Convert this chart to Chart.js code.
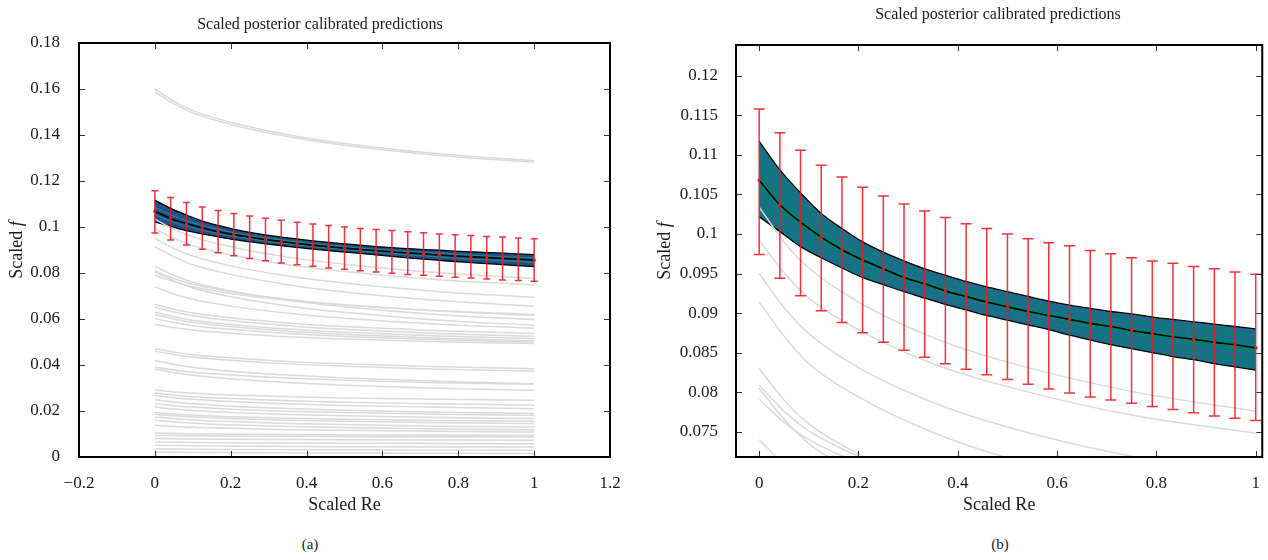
<!DOCTYPE html>
<html>
<head>
<meta charset="utf-8">
<script src="https://cdn.jsdelivr.net/npm/chart.js@4.4.1/dist/chart.umd.min.js"></script>
<style>
    body { margin: 0; background: #fff; }
    #wrap { position: relative; width: 1268px; height: 560px; font-family: "Liberation Serif", serif; }
    .box { position: absolute; top: 0; height: 520px; }
    .panel { position: absolute; top: 536px; font-size: 15px; color: #222; transform: translateX(-50%); }
</style>
</head>
<body>
<div id="wrap">
    <div class="box" style="left:0;width:630px"><canvas id="chart-a"></canvas></div>
    <div class="box" style="left:640px;width:628px"><canvas id="chart-b"></canvas></div>
    <div class="panel" style="left:310px">(a)</div>
    <div class="panel" style="left:1000px">(b)</div>
</div>
<script>
// --- Datos ---
// Puntos de Re escalado donde se evaluan las predicciones calibradas (25 puntos)
const reCal = [0, 0.0417, 0.0833, 0.125, 0.1667, 0.2083, 0.25, 0.2917, 0.3333, 0.375, 0.4167, 0.4583,
    0.5, 0.5417, 0.5833, 0.625, 0.6667, 0.7083, 0.75, 0.7917, 0.8333, 0.875, 0.9167, 0.9583, 1];
const meanPred = [0.1068, 0.1037, 0.1015, 0.0996, 0.0980, 0.0967, 0.0956, 0.0945, 0.0937, 0.0928, 0.0921, 0.0914,
    0.0908, 0.0902, 0.0897, 0.0892, 0.0887, 0.0883, 0.0878, 0.0874, 0.0870, 0.0867, 0.0863, 0.0860, 0.0856];
const bandUpper = [0.1117, 0.1081, 0.1052, 0.1026, 0.1007, 0.0990, 0.0977, 0.0966, 0.0956, 0.0948, 0.0940, 0.0933,
    0.0927, 0.0921, 0.0915, 0.0910, 0.0906, 0.0902, 0.0899, 0.0895, 0.0892, 0.0889, 0.0886, 0.0883, 0.0880];
const bandLower = [0.1022, 0.1003, 0.0984, 0.0970, 0.0957, 0.0945, 0.0936, 0.0927, 0.0919, 0.0911, 0.0904, 0.0897,
    0.0891, 0.0885, 0.0879, 0.0872, 0.0866, 0.0860, 0.0855, 0.0850, 0.0845, 0.0841, 0.0836, 0.0832, 0.0828];
// Barras de error de los datos experimentales
const errUpper = [0.1158, 0.1128, 0.1106, 0.1087, 0.1072, 0.1059, 0.1048, 0.1038, 0.1029, 0.1021, 0.1013, 0.1007,
    0.1000, 0.0994, 0.0989, 0.0985, 0.0979, 0.0975, 0.0970, 0.0966, 0.0963, 0.0959, 0.0956, 0.0952, 0.0949];
const errLower = [0.0974, 0.0944, 0.0922, 0.0903, 0.0888, 0.0875, 0.0863, 0.0853, 0.0844, 0.0836, 0.0829, 0.0822,
    0.0816, 0.0810, 0.0804, 0.0799, 0.0794, 0.0790, 0.0786, 0.0782, 0.0778, 0.0774, 0.0770, 0.0767, 0.0764];

// Curvas grises (simulaciones), valores de f en cada nodo de Re
const reKnots = [0, 0.05, 0.1, 0.2, 0.35, 0.5, 0.75, 1];
const simCurves = [
    [0.1600, 0.1547, 0.1506, 0.1455, 0.1401, 0.1363, 0.1318, 0.1288],
    [0.1588, 0.1536, 0.1496, 0.1446, 0.1393, 0.1355, 0.1311, 0.1282],
    [0.1034, 0.0990, 0.0957, 0.0914, 0.0869, 0.0838, 0.0801, 0.0776],
    [0.0992, 0.0951, 0.0919, 0.0879, 0.0836, 0.0807, 0.0771, 0.0748],
    [0.0950, 0.0907, 0.0874, 0.0831, 0.0787, 0.0756, 0.0719, 0.0695],
    [0.0914, 0.0871, 0.0836, 0.0794, 0.0749, 0.0717, 0.0680, 0.0655],
    [0.0830, 0.0790, 0.0760, 0.0722, 0.0681, 0.0653, 0.0619, 0.0597],
    [0.0809, 0.0776, 0.0751, 0.0719, 0.0686, 0.0662, 0.0635, 0.0616],
    [0.0805, 0.0766, 0.0735, 0.0697, 0.0657, 0.0629, 0.0595, 0.0573],
    [0.0791, 0.0762, 0.0740, 0.0711, 0.0682, 0.0661, 0.0636, 0.0620],
    [0.0740, 0.0709, 0.0686, 0.0656, 0.0625, 0.0603, 0.0577, 0.0560],
    [0.0664, 0.0642, 0.0626, 0.0605, 0.0583, 0.0567, 0.0549, 0.0537],
    [0.0652, 0.0630, 0.0614, 0.0593, 0.0571, 0.0555, 0.0537, 0.0525],
    [0.0629, 0.0610, 0.0595, 0.0576, 0.0556, 0.0542, 0.0526, 0.0515],
    [0.0620, 0.0600, 0.0586, 0.0567, 0.0547, 0.0533, 0.0516, 0.0505],
    [0.0602, 0.0585, 0.0571, 0.0555, 0.0537, 0.0524, 0.0510, 0.0500],
    [0.0577, 0.0563, 0.0552, 0.0538, 0.0523, 0.0513, 0.0501, 0.0493],
    [0.0471, 0.0456, 0.0445, 0.0431, 0.0415, 0.0405, 0.0392, 0.0384],
    [0.0461, 0.0446, 0.0435, 0.0421, 0.0405, 0.0395, 0.0382, 0.0374],
    [0.0420, 0.0403, 0.0390, 0.0373, 0.0356, 0.0343, 0.0329, 0.0319],
    [0.0391, 0.0378, 0.0369, 0.0356, 0.0343, 0.0334, 0.0323, 0.0316],
    [0.0383, 0.0367, 0.0355, 0.0340, 0.0324, 0.0312, 0.0299, 0.0290],
    [0.0290, 0.0283, 0.0277, 0.0270, 0.0263, 0.0257, 0.0251, 0.0247],
    [0.0278, 0.0269, 0.0262, 0.0254, 0.0245, 0.0238, 0.0231, 0.0226],
    [0.0268, 0.0258, 0.0251, 0.0241, 0.0231, 0.0224, 0.0216, 0.0210],
    [0.0249, 0.0239, 0.0231, 0.0221, 0.0211, 0.0203, 0.0195, 0.0189],
    [0.0232, 0.0223, 0.0217, 0.0208, 0.0199, 0.0193, 0.0186, 0.0181],
    [0.0217, 0.0209, 0.0202, 0.0194, 0.0185, 0.0179, 0.0172, 0.0167],
    [0.0193, 0.0187, 0.0182, 0.0175, 0.0169, 0.0164, 0.0159, 0.0155],
    [0.0186, 0.0179, 0.0174, 0.0167, 0.0160, 0.0155, 0.0149, 0.0145],
    [0.0174, 0.0167, 0.0161, 0.0154, 0.0146, 0.0141, 0.0134, 0.0130],
    [0.0160, 0.0153, 0.0147, 0.0140, 0.0133, 0.0128, 0.0122, 0.0118],
    [0.0138, 0.0133, 0.0129, 0.0125, 0.0119, 0.0116, 0.0112, 0.0109],
    [0.0104, 0.0102, 0.0101, 0.0099, 0.0098, 0.0096, 0.0095, 0.0094],
    [0.0094, 0.0093, 0.0092, 0.0091, 0.0090, 0.0089, 0.0088, 0.0087],
    [0.0080, 0.0079, 0.0078, 0.0077, 0.0076, 0.0075, 0.0074, 0.0073],
    [0.0065, 0.0064, 0.0063, 0.0062, 0.0061, 0.0060, 0.0059, 0.0058],
    [0.0051, 0.0050, 0.0049, 0.0047, 0.0046, 0.0045, 0.0044, 0.0043],
    [0.0036, 0.0035, 0.0034, 0.0033, 0.0032, 0.0031, 0.0030, 0.0029],
    [0.0022, 0.0021, 0.0020, 0.0019, 0.0018, 0.0017, 0.0016, 0.0015]
];

// Marcas de los ejes
const xTicksA = [-0.2, 0, 0.2, 0.4, 0.6, 0.8, 1, 1.2];
const yTicksA = [0, 0.02, 0.04, 0.06, 0.08, 0.1, 0.12, 0.14, 0.16, 0.18];
const xTicksB = [0, 0.2, 0.4, 0.6, 0.8, 1];
const yTicksB = [0.075, 0.08, 0.085, 0.09, 0.095, 0.1, 0.105, 0.11, 0.115, 0.12];

const FONT = '"Liberation Serif", "DejaVu Serif", serif';
Chart.defaults.font.family = FONT;
Chart.defaults.color = '#1a1a1a';

const fmt = v => (v < 0 ? '\u2212' : '') + String(+Math.abs(v).toFixed(4));
const pts = (xs, ys) => xs.map((x, i) => ({ x, y: ys[i] }));

// --- Plugins ---
const errorBars = {
    id: 'errorBars',
    afterDatasetsDraw(chart, args, o) {
        const { ctx, chartArea: a, scales: { x, y } } = chart;
        ctx.save();
        ctx.beginPath();
        ctx.rect(a.left, a.top, a.right - a.left, a.bottom - a.top);
        ctx.clip();
        ctx.strokeStyle = 'rgba(244, 20, 30, 0.88)';
        ctx.fillStyle = '#e8141c';
        ctx.lineWidth = 1.5;
        reCal.forEach((re, i) => {
            const px = x.getPixelForValue(re);
            const yt = y.getPixelForValue(errUpper[i]);
            const yb = y.getPixelForValue(errLower[i]);
            ctx.beginPath();
            ctx.moveTo(px, yt); ctx.lineTo(px, yb);
            ctx.moveTo(px - o.cap, yt); ctx.lineTo(px + o.cap, yt);
            ctx.moveTo(px - o.cap, yb); ctx.lineTo(px + o.cap, yb);
            ctx.stroke();
            const pm = y.getPixelForValue(meanPred[i]);
            ctx.fillRect(px - 1.5, pm - 1.5, 3, 3);
        });
        ctx.restore();
    }
};

const frame = {
    id: 'frame',
    afterDraw(chart, args, o) {
        const { ctx, chartArea: a, scales: { x, y } } = chart;
        ctx.save();
        ctx.strokeStyle = '#333';
        ctx.lineWidth = 1;
        ctx.beginPath();
        x.ticks.forEach(t => {
            const p = Math.round(x.getPixelForValue(t.value)) + 0.5;
            ctx.moveTo(p, a.bottom); ctx.lineTo(p, a.bottom - 6);
            ctx.moveTo(p, a.top); ctx.lineTo(p, a.top + 6);
        });
        y.ticks.forEach(t => {
            const p = Math.round(y.getPixelForValue(t.value)) + 0.5;
            ctx.moveTo(a.left, p); ctx.lineTo(a.left + 6, p);
            ctx.moveTo(a.right, p); ctx.lineTo(a.right - 6, p);
        });
        ctx.stroke();
        ctx.strokeStyle = '#000';
        ctx.lineWidth = 2;
        ctx.strokeRect(a.left, a.top, a.right - a.left, a.bottom - a.top);

        // Titulos
        ctx.fillStyle = '#1a1a1a';
        ctx.textAlign = 'center';
        ctx.textBaseline = 'middle';
        ctx.font = '16px ' + FONT;
        ctx.fillText('Scaled posterior calibrated predictions', o.titleX, o.titleY);
        ctx.font = '18px ' + FONT;
        ctx.fillText('Scaled Re', (a.left + a.right) / 2, 505);

        // Eje y: "Scaled f" con f en cursiva
        ctx.translate(o.yTitleX, (a.top + a.bottom) / 2);
        ctx.rotate(-Math.PI / 2);
        const w1 = ctx.measureText('Scaled ').width;
        ctx.font = 'italic 18px ' + FONT;
        const w2 = ctx.measureText('f').width;
        ctx.textAlign = 'left';
        ctx.font = '18px ' + FONT;
        ctx.fillText('Scaled ', -(w1 + w2) / 2, 0);
        ctx.font = 'italic 18px ' + FONT;
        ctx.fillText('f', -(w1 + w2) / 2 + w1, 0);
        ctx.restore();
    }
};

// --- Construccion de cada panel ---
function buildChart(id, cfg) {
    // lineas interiores de la banda (fraccion t hacia el borde superior o inferior)
    const inner = (t) => reCal.map((re, i) => ({
        x: re,
        y: meanPred[i] + Math.abs(t) * ((t > 0 ? bandUpper[i] : bandLower[i]) - meanPred[i])
    }));
    const datasets = [
        {
            data: pts(reCal, bandUpper), borderColor: '#000', borderWidth: 1.3,
            backgroundColor: cfg.bandFill, fill: '+1', order: 100
        },
        { data: pts(reCal, bandLower), borderColor: '#000', borderWidth: 1.3, fill: false, order: 99 },
        ...cfg.innerT.map(t => ({ data: inner(t), borderColor: cfg.innerColor, borderWidth: 1.2, fill: false, order: 90 })),
        ...simCurves.map(c => ({
            data: pts(reKnots, c), borderColor: '#dadada', borderWidth: 1.5, fill: false, order: 50
        })),
        { data: pts(reCal, meanPred), borderColor: '#000', borderWidth: 1.6, fill: false, order: 10 }
    ];
    datasets.forEach(d => {
        d.pointRadius = 0;
        d.cubicInterpolationMode = 'monotone';
        d.clip = 0;
    });

    return new Chart(document.getElementById(id), {
        type: 'line',
        data: { datasets },
        plugins: [errorBars, frame],
        options: {
            responsive: true,
            maintainAspectRatio: false,
            animation: false,
            layout: { padding: cfg.padding },
            plugins: {
                legend: { display: false },
                tooltip: { enabled: false },
                errorBars: { cap: cfg.cap },
                frame: { titleX: cfg.titleX, titleY: cfg.titleY, yTitleX: cfg.yTitleX }
            },
            scales: {
                x: {
                    type: 'linear', min: cfg.xRange[0], max: cfg.xRange[1],
                    grid: { display: false }, border: { display: false },
                    afterBuildTicks: s => { s.ticks = cfg.xTicks.map(v => ({ value: v })); },
                    afterFit: s => { s.height = 63; },
                    ticks: { callback: fmt, autoSkip: false, maxRotation: 0, padding: 8, font: { size: 17 } }
                },
                y: {
                    type: 'linear', min: cfg.yRange[0], max: cfg.yRange[1],
                    grid: { display: false }, border: { display: false },
                    afterBuildTicks: s => { s.ticks = cfg.yTicks.map(v => ({ value: v })); },
                    afterFit: s => { s.width = cfg.yWidth; },
                    ticks: { callback: fmt, autoSkip: false, padding: cfg.yPad, font: { size: 17 } }
                }
            }
        }
    });
}

buildChart('chart-a', {
    xRange: [-0.2, 1.2], yRange: [0, 0.18], xTicks: xTicksA, yTicks: yTicksA,
    padding: { left: 0, right: 20, top: 43, bottom: 0 }, yWidth: 79, yPad: 11,
    bandFill: '#1f4f8c', innerColor: '#1a8c8c', innerT: [0.35, -0.35],
    cap: 3.5, titleX: 320, titleY: 25, yTitleX: 17
});

buildChart('chart-b', {
    xRange: [-0.0467, 1.0132], yRange: [0.0718, 0.1239], xTicks: xTicksB, yTicks: yTicksB,
    padding: { left: 0, right: 4, top: 45, bottom: 0 }, yWidth: 96, yPad: 10,
    bandFill: '#0b7b7a', innerColor: '#4b4cbc', innerT: [0.8, 0.4, -0.4, -0.8],
    cap: 5.5, titleX: 358, titleY: 15, yTitleX: 25
});
</script>
</body>
</html>
